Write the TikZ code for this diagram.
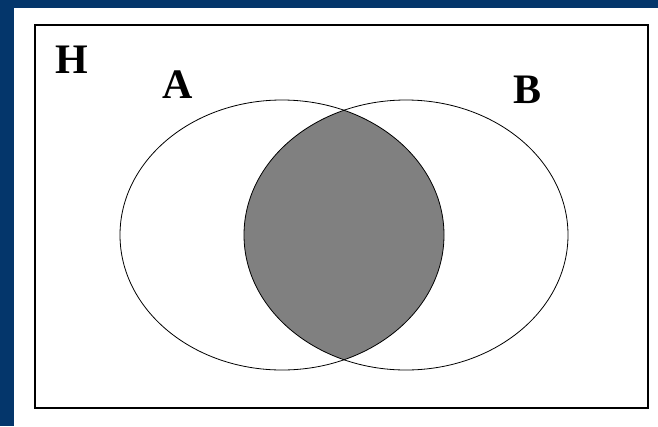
\documentclass[tikz,border=0pt]{standalone}
\usepackage{fontspec}
\setmainfont{Liberation Serif}
\definecolor{bgblue}{RGB}{4,54,107}
\definecolor{lensgray}{RGB}{128,128,128}
\tikzset{
  lbl/.style={font=\fontsize{42}{42}\selectfont\bfseries, inner sep=0pt, anchor=base},
  setline/.style={draw=black, line width=0.8pt},
}
\begin{document}
\begin{tikzpicture}[x=1pt,y=-1pt]
  \fill[bgblue] (0,0) rectangle (658,426);
  \fill[white] (14,8) rectangle (658,426);
  \useasboundingbox (0,0) rectangle (658,426);
  \node[draw=black, line width=1.5pt, minimum width=613pt, minimum height=383pt, inner sep=0pt, anchor=north west] (H) at (34,24) {};
  \begin{scope}
    \clip (282,235) ellipse [x radius=162, y radius=135];
    \fill[fill=lensgray] (406,235) ellipse [x radius=162, y radius=135];
  \end{scope}
  \draw[setline] (282,235) ellipse [x radius=162, y radius=135];
  \draw[setline] (406,235) ellipse [x radius=162, y radius=135];
  \node[lbl] (hl) at (72,73) {H};
  \node[lbl] (al) at (178,98) {A};
  \node[lbl] (bl) at (527,103) {B};
\end{tikzpicture}
\end{document}
